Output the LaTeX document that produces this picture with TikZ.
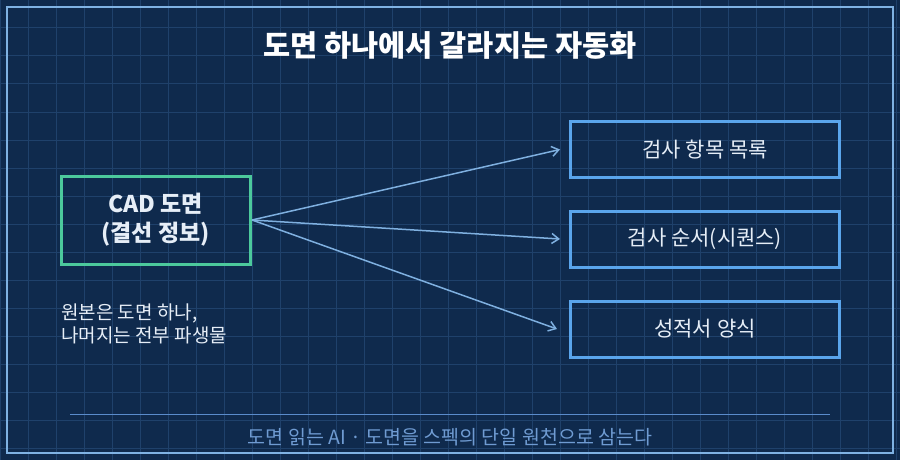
\documentclass[tikz,border=0pt]{standalone}
\usepackage{fontspec}
\setmainfont{Noto Sans CJK KR}
\usetikzlibrary{arrows.meta}
\definecolor{bg}{HTML}{0F2A4D}
\definecolor{gridc}{HTML}{1F416B}
\definecolor{framec}{HTML}{7FB2E3}
\definecolor{greenc}{HTML}{4CC99C}
\definecolor{bluec}{HTML}{5AA5EC}
\definecolor{arrowc}{HTML}{7FB0E0}
\definecolor{textc}{HTML}{E6EEF7}
\definecolor{footc}{HTML}{6F9BD2}
\definecolor{rulec}{HTML}{5A8CCC}
\tikzset{
  srcbox/.style={draw=greenc, line width=3pt, minimum width=189pt, minimum height=88pt, inner sep=0pt, text=textc, font=\fontsize{23}{29}\selectfont\bfseries, align=center},
  outbox/.style={draw=bluec, line width=3pt, minimum width=269pt, minimum height=56pt, inner sep=0pt, text=textc, font=\fontsize{21}{24}\selectfont},
  conn/.style={draw=arrowc, line width=1.5pt, -{Straight Barb[length=7pt,width=10pt,line width=1.5pt]}},
}
\begin{document}
\begin{tikzpicture}[x=1pt,y=-1pt]
\useasboundingbox (0,0) rectangle (900,460);
\fill[bg] (0,0) rectangle (900,460);
\foreach \i in {0,28,...,896} \draw[gridc, line width=1pt] (\i,0) -- (\i,460);
\foreach \j in {0,28,...,448} \draw[gridc, line width=1pt] (0,\j) -- (900,\j);
\draw[framec, line width=2pt] (7,7) rectangle (893,453);
\node[text=white, font=\fontsize{29.5}{32}\selectfont\bfseries] (title) at (450,45) {도면 하나에서 갈라지는 자동화};
\node[srcbox] (cad) at (155.5,220) {CAD 도면\\(결선 정보)};
\node[outbox] (o1) at (705,149.5) {검사 항목 목록};
\node[outbox] (o2) at (705,239) {검사 순서(시퀀스)};
\node[outbox] (o3) at (705,329) {성적서 양식};
\coordinate (src) at (252,220);
\draw[conn] (src) -- ([xshift=-9pt]o1.west);
\draw[conn] (src) -- ([xshift=-9pt]o2.west);
\draw[conn] (src) -- ([xshift=-12pt]o3.west);
\node[anchor=west, text=textc, font=\fontsize{19}{23}\selectfont, align=left, inner sep=0pt] (note) at (61,323.5) {원본은 도면 하나,\\나머지는 전부 파생물};
\coordinate (r1) at (70,414);
\coordinate (r2) at (830,414);
\draw[rulec, line width=1pt] (r1) -- (r2);
\node[text=footc, font=\fontsize{19.5}{22}\selectfont] (foot) at (450,437) {도면 읽는 AI · 도면을 스펙의 단일 원천으로 삼는다};
\end{tikzpicture}
\end{document}
